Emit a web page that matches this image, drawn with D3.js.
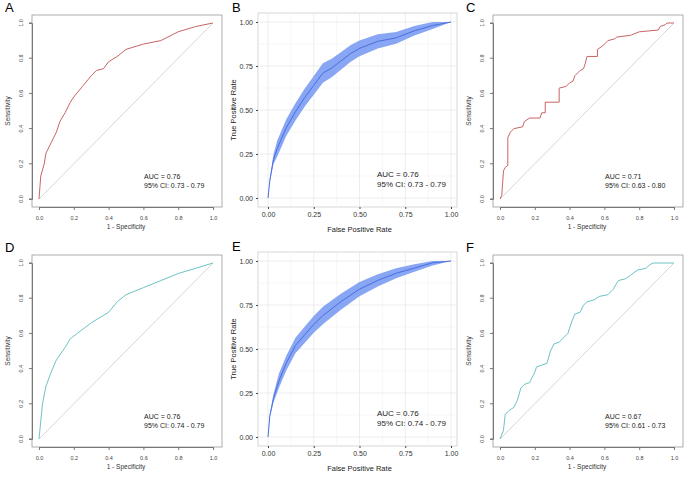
<!DOCTYPE html>
<html><head><meta charset="utf-8">
<script src="https://cdn.jsdelivr.net/npm/d3@7"></script>
<style>body{margin:0;background:#fff}text{font-family:"Liberation Sans",Arial,sans-serif}</style>
</head><body><svg id="c" width="700" height="477"></svg>
<script>
// ROC curves, [fpr, tpr]
const rocA = [[0,0],[0.01,0.13],[0.03,0.2],[0.04,0.26],[0.07,0.32],[0.1,0.38],[0.12,0.44],[0.15,0.49],[0.18,0.55],[0.2,0.58],[0.25,0.64],[0.3,0.7],[0.33,0.73],[0.37,0.74],[0.4,0.78],[0.45,0.81],[0.5,0.85],[0.6,0.88],[0.7,0.9],[0.8,0.95],[0.9,0.98],[1,1]];
const rocB = [[0,0],[0.01,0.1],[0.03,0.22],[0.05,0.28],[0.1,0.4],[0.15,0.49],[0.2,0.57],[0.25,0.64],[0.3,0.71],[0.35,0.74],[0.4,0.78],[0.45,0.82],[0.5,0.85],[0.6,0.89],[0.7,0.91],[0.8,0.95],[0.9,0.98],[1,1]];
const rocC = [[0,0],[0.01,0.02],[0.015,0.09],[0.02,0.16],[0.03,0.18],[0.045,0.19],[0.045,0.35],[0.06,0.38],[0.08,0.4],[0.13,0.41],[0.14,0.44],[0.17,0.46],[0.23,0.46],[0.24,0.49],[0.26,0.49],[0.26,0.55],[0.34,0.55],[0.34,0.63],[0.38,0.64],[0.4,0.66],[0.42,0.67],[0.43,0.7],[0.46,0.73],[0.48,0.74],[0.49,0.77],[0.5,0.81],[0.56,0.81],[0.56,0.85],[0.59,0.87],[0.62,0.9],[0.66,0.91],[0.67,0.92],[0.75,0.93],[0.8,0.95],[0.91,0.96],[0.92,0.98],[0.95,0.99],[0.96,1],[1,1]];
const rocD = [[0,0],[0.01,0.1],[0.02,0.2],[0.04,0.3],[0.07,0.38],[0.1,0.45],[0.15,0.52],[0.18,0.57],[0.22,0.6],[0.3,0.66],[0.4,0.72],[0.45,0.78],[0.5,0.82],[0.6,0.86],[0.7,0.9],[0.8,0.94],[0.9,0.97],[1,1]];
const rocE = [[0,0],[0.01,0.12],[0.03,0.22],[0.06,0.32],[0.1,0.42],[0.15,0.52],[0.2,0.58],[0.25,0.64],[0.3,0.69],[0.4,0.77],[0.5,0.84],[0.6,0.89],[0.7,0.93],[0.8,0.96],[0.9,0.99],[1,1]];
const rocF = [[0,0],[0.02,0.05],[0.03,0.14],[0.05,0.16],[0.08,0.18],[0.1,0.22],[0.12,0.29],[0.14,0.31],[0.17,0.32],[0.2,0.38],[0.21,0.41],[0.24,0.42],[0.27,0.43],[0.29,0.5],[0.31,0.54],[0.34,0.55],[0.37,0.58],[0.39,0.6],[0.41,0.66],[0.43,0.71],[0.46,0.72],[0.48,0.76],[0.5,0.78],[0.54,0.79],[0.57,0.81],[0.62,0.82],[0.65,0.85],[0.68,0.9],[0.72,0.91],[0.75,0.93],[0.79,0.96],[0.84,0.97],[0.86,0.99],[0.88,1],[1,1]];
// CI half-width of the ribbon along fpr
const ciB = [[0,0],[0.05,0.045],[0.3,0.055],[0.6,0.04],[0.9,0.02],[1,0]];
const ciE = [[0,0],[0.05,0.04],[0.3,0.05],[0.6,0.035],[0.9,0.015],[1,0]];
const aucText = {
  A:["AUC = 0.76","95% CI: 0.73 - 0.79"], B:["AUC = 0.76","95% CI: 0.73 - 0.79"],
  C:["AUC = 0.71","95% CI: 0.63 - 0.80"], D:["AUC = 0.76","95% CI: 0.74 - 0.79"],
  E:["AUC = 0.76","95% CI: 0.74 - 0.79"], F:["AUC = 0.67","95% CI: 0.61 - 0.73"]
};
const baseTicks = [0,0.2,0.4,0.6,0.8,1];
const ggTicks = [0,0.25,0.5,0.75,1];

const svg = d3.select('#c');

function halfW(ci, x){
  const f = d3.scaleLinear().domain(ci.map(d=>d[0])).range(ci.map(d=>d[1]));
  return f(x);
}

// base R style panel
function basePanel(letter, dx, dy, data, color){
  const g = svg.append('g').attr('transform',`translate(${dx},${dy})`);
  const x = d3.scaleLinear().domain([0,1]).range([39,213]);
  const y = d3.scaleLinear().domain([0,1]).range([199,23]);
  g.append('text').attr('x',5).attr('y',12).attr('font-family','Liberation Serif').attr('font-size',13).text(letter);
  g.append('rect').attr('x',32).attr('y',15).attr('width',190).attr('height',192).attr('fill','none').attr('stroke','#999').attr('stroke-width',0.8);
  g.append('line').attr('x1',x(0)).attr('y1',y(0)).attr('x2',x(1)).attr('y2',y(1)).attr('stroke','#ccc').attr('stroke-width',0.8);
  g.append('path').datum(data).attr('d',d3.line().x(d=>x(d[0])).y(d=>y(d[1]))).attr('fill','none').attr('stroke',color).attr('stroke-width',1);
  const xa = g.append('g').attr('transform','translate(0,207)').call(d3.axisBottom(x).tickValues(baseTicks).tickFormat(d3.format('.1f')).tickSize(3));
  const ya = g.append('g').attr('transform','translate(32,0)').call(d3.axisLeft(y).tickValues(baseTicks).tickFormat(d3.format('.1f')).tickSize(3));
  [xa,ya].forEach(a=>{a.select('.domain').attr('stroke','#777');a.selectAll('line').attr('stroke','#777');a.selectAll('text').attr('font-size',5.5).attr('fill','#444');});
  xa.selectAll('text').attr('dy','1.2em');
  ya.selectAll('.tick').attr('transform',null);
  ya.selectAll('.tick line').attr('y1',d=>y(d)).attr('y2',d=>y(d));
  ya.selectAll('.tick text').each(function(d){
    d3.select(this).attr('x',null).attr('dy',null).attr('y',0).attr('text-anchor','middle').attr('transform',`translate(-9,${y(d)}) rotate(-90)`);
  });
  g.append('text').attr('x',(x(0)+x(1))/2).attr('y',229).attr('text-anchor','middle').attr('font-size',6.5).attr('fill','#333').text('1 - Specificity');
  g.append('text').attr('transform',`translate(10,${(y(0)+y(1))/2}) rotate(-90)`).attr('text-anchor','middle').attr('font-size',6.5).attr('fill','#333').text('Sensitivity');
  aucText[letter].forEach((t,i)=>g.append('text').attr('x',144).attr('y',179+i*9).attr('font-size',7).attr('fill','#222').text(t));
}

// ggplot style panel
function ggPanel(letter, dx, dy, data, ci){
  const g = svg.append('g').attr('transform',`translate(${dx},${dy})`);
  const x = d3.scaleLinear().domain([0,1]).range([268,451]);
  const y = d3.scaleLinear().domain([0,1]).range([198,22]);
  g.append('text').attr('x',232).attr('y',12).attr('font-family','Liberation Serif').attr('font-size',13).text(letter);
  g.append('rect').attr('x',258).attr('y',13).attr('width',199).attr('height',194).attr('fill','#fff').attr('stroke','#ccc').attr('stroke-width',0.8);
  const minor = [0.125,0.375,0.625,0.875];
  minor.forEach(v=>{
    g.append('line').attr('x1',x(v)).attr('x2',x(v)).attr('y1',13).attr('y2',207).attr('stroke','#f2f2f2').attr('stroke-width',0.6);
    g.append('line').attr('y1',y(v)).attr('y2',y(v)).attr('x1',258).attr('x2',457).attr('stroke','#f2f2f2').attr('stroke-width',0.6);
  });
  ggTicks.forEach(v=>{
    g.append('line').attr('x1',x(v)).attr('x2',x(v)).attr('y1',13).attr('y2',207).attr('stroke','#e8e8e8').attr('stroke-width',0.8);
    g.append('line').attr('y1',y(v)).attr('y2',y(v)).attr('x1',258).attr('x2',457).attr('stroke','#e8e8e8').attr('stroke-width',0.8);
  });
  g.append('path').datum(data).attr('d',d3.area().x(d=>x(d[0]))
      .y0(d=>y(Math.max(0,d[1]-halfW(ci,d[0])))).y1(d=>y(Math.min(1,d[1]+halfW(ci,d[0])))))
    .attr('fill','#7b9cf2').attr('opacity',0.9);
  g.append('path').datum(data).attr('d',d3.line().x(d=>x(d[0])).y(d=>y(d[1]))).attr('fill','none').attr('stroke','#4a6fde').attr('stroke-width',1);
  const xa = g.append('g').attr('transform','translate(0,207)').call(d3.axisBottom(x).tickValues(ggTicks).tickFormat(d3.format('.2f')).tickSize(2));
  const ya = g.append('g').attr('transform','translate(258,0)').call(d3.axisLeft(y).tickValues(ggTicks).tickFormat(d3.format('.2f')).tickSize(2));
  [xa,ya].forEach(a=>{a.select('.domain').remove();a.selectAll('line').attr('stroke','#444');a.selectAll('text').attr('font-size',7).attr('fill','#333');});
  g.append('text').attr('x',(x(0)+x(1))/2).attr('y',232).attr('text-anchor','middle').attr('font-size',7.5).attr('fill','#222').text('False Positive Rate');
  g.append('text').attr('transform',`translate(236,${(y(0)+y(1))/2}) rotate(-90)`).attr('text-anchor','middle').attr('font-size',7.5).attr('fill','#222').text('True Positive Rate');
  aucText[letter].forEach((t,i)=>g.append('text').attr('x',377).attr('y',177+i*10).attr('font-size',8).attr('fill','#222').text(t));
}

basePanel('A',0,0,rocA,'#c86464');
ggPanel('B',0,0,rocB,ciB);
basePanel('C',461,0,rocC,'#c86464');
basePanel('D',0,240,rocD,'#6cc3c3');
ggPanel('E',0,239,rocE,ciE);
basePanel('F',461,240,rocF,'#6cc3c3');
</script></body></html>
